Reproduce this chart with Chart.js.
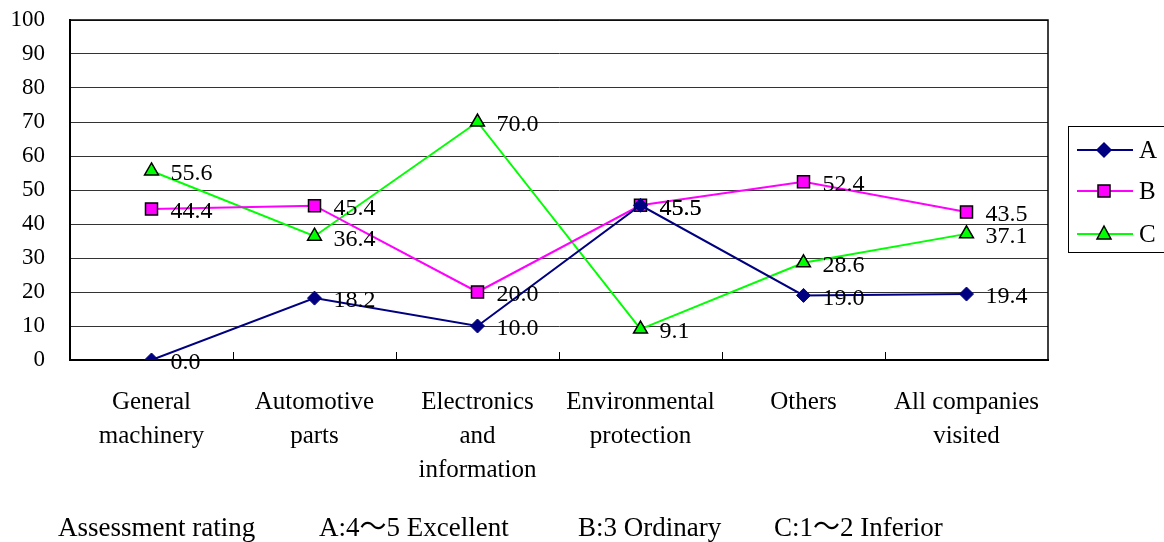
<!DOCTYPE html>
<html>
<head>
  <title>Assessment rating by industry</title>
  <script src="https://cdn.jsdelivr.net/npm/chart.js"></script>
  <style>
    body {
      margin: 0;
      background-color: #FFFFFF;
    }

    .chart-container {
      position: relative;
      width: 1164px;
      height: 542px;
    }

    .caption {
      position: absolute;
      display: block;
      top: 512px;
      height: 30px;
      line-height: 30px;
      font-family: "Liberation Serif", "Noto Sans CJK JP", serif;
      font-size: 27px;
      color: #000000;
      white-space: nowrap;
    }
  </style>
</head>
<body>
  <div class="chart-container">
    <canvas id="ratingChart" width="1164" height="542"></canvas>
    <div class="caption" style="left: 58px;">Assessment rating</div>
    <div class="caption" style="left: 319px;">A:4～5 Excellent</div>
    <div class="caption" style="left: 578px;">B:3 Ordinary</div>
    <div class="caption" style="left: 774px;">C:1～2 Inferior</div>
  </div>

  <script>
    const categories = [
      ['General', 'machinery'],
      ['Automotive', 'parts'],
      ['Electronics', 'and', 'information'],
      ['Environmental', 'protection'],
      ['Others'],
      ['All companies', 'visited'],
    ];
    const seriesA = [0.0, 18.2, 10.0, 45.5, 19.0, 19.4];
    const seriesB = [44.4, 45.4, 20.0, 45.5, 52.4, 43.5];
    const seriesC = [55.6, 36.4, 70.0, 9.1, 28.6, 37.1];
    const yTicks = [0, 10, 20, 30, 40, 50, 60, 70, 80, 90, 100];

    const serif = '"Liberation Serif", "Times New Roman", serif';

    // draws a marker shape (used for the legend)
    const drawMarker = (ctx, style, x, y, fill, stroke) => {
      ctx.save();
      ctx.fillStyle = fill;
      ctx.strokeStyle = stroke;
      ctx.lineWidth = 1.5;
      ctx.beginPath();
      if (style === 'rectRot') {
        ctx.moveTo(x, y - 7);
        ctx.lineTo(x + 7, y);
        ctx.lineTo(x, y + 7);
        ctx.lineTo(x - 7, y);
      } else if (style === 'rect') {
        ctx.rect(x - 6, y - 6, 12, 12);
      } else {
        ctx.moveTo(x, y - 8);
        ctx.lineTo(x + 7, y + 5);
        ctx.lineTo(x - 7, y + 5);
      }
      ctx.closePath();
      ctx.fill();
      ctx.stroke();
      ctx.restore();
    };

    const framePlugin = {
      id: 'frame',
      beforeDatasetsDraw: (chart) => {
        const { ctx, chartArea } = chart;
        ctx.save();
        ctx.strokeStyle = '#000000';
        ctx.lineWidth = 1.5;
        ctx.beginPath();
        ctx.moveTo(chartArea.left, chartArea.top);
        ctx.lineTo(chartArea.right, chartArea.top);
        ctx.lineTo(chartArea.right, chartArea.bottom);
        ctx.stroke();
        // short ticks between categories, drawn inward
        const xScale = chart.scales.x;
        ctx.lineWidth = 1;
        for (let i = 1; i < categories.length; i++) {
          const px = Math.round((xScale.getPixelForTick(i - 1) + xScale.getPixelForTick(i)) / 2) + 0.5;
          ctx.beginPath();
          ctx.moveTo(px, chartArea.bottom - 8);
          ctx.lineTo(px, chartArea.bottom);
          ctx.stroke();
        }
        ctx.restore();
      },
    };

    const valueLabelPlugin = {
      id: 'valueLabels',
      afterDatasetsDraw: (chart) => {
        const ctx = chart.ctx;
        ctx.save();
        ctx.font = '24px ' + serif;
        ctx.fillStyle = '#000000';
        ctx.textAlign = 'left';
        ctx.textBaseline = 'middle';
        chart.data.datasets.forEach((ds, i) => {
          chart.getDatasetMeta(i).data.forEach((pt, j) => {
            ctx.fillText(ds.data[j].toFixed(1), pt.x + 19, pt.y + 3);
          });
        });
        ctx.restore();
      },
    };

    const legendPlugin = {
      id: 'boxLegend',
      afterDraw: (chart) => {
        const ctx = chart.ctx;
        ctx.save();
        ctx.strokeStyle = '#000000';
        ctx.lineWidth = 1;
        ctx.strokeRect(1068.5, 126.5, 110, 126);
        const rows = [150, 191, 234];
        chart.data.datasets.forEach((ds, i) => {
          const y = rows[i];
          ctx.strokeStyle = ds.borderColor;
          ctx.lineWidth = 2;
          ctx.beginPath();
          ctx.moveTo(1077, y);
          ctx.lineTo(1133, y);
          ctx.stroke();
          drawMarker(ctx, ds.pointStyle, 1104, y, ds.pointBackgroundColor, ds.pointBorderColor);
          ctx.fillStyle = '#000000';
          ctx.font = '25px ' + serif;
          ctx.textAlign = 'left';
          ctx.textBaseline = 'middle';
          ctx.fillText(ds.label, 1139, y + 1);
        });
        ctx.restore();
      },
    };

    const ctx = document.getElementById('ratingChart').getContext('2d');
    const chart = new Chart(ctx, {
      type: 'line',
      data: {
        labels: categories,
        datasets: [
          {
            label: 'A',
            data: seriesA,
            borderColor: '#000080',
            borderWidth: 2,
            pointStyle: 'rectRot',
            pointRadius: 7,
            pointBackgroundColor: '#000080',
            pointBorderColor: '#000080',
            pointBorderWidth: 1,
            fill: false,
          },
          {
            label: 'B',
            data: seriesB,
            borderColor: '#FF00FF',
            borderWidth: 2,
            pointStyle: 'rect',
            pointRadius: 8.5,
            pointBackgroundColor: '#FF00FF',
            pointBorderColor: '#000000',
            pointBorderWidth: 1.5,
            fill: false,
          },
          {
            label: 'C',
            data: seriesC,
            borderColor: '#00FF00',
            borderWidth: 2,
            pointStyle: 'triangle',
            pointRadius: 8,
            pointBackgroundColor: '#00FF00',
            pointBorderColor: '#000000',
            pointBorderWidth: 1.5,
            fill: false,
          },
        ],
      },
      options: {
        responsive: false,
        animation: false,
        layout: {
          padding: { left: 0, right: 116, top: 20, bottom: 0 },
        },
        scales: {
          x: {
            offset: true,
            grid: { display: true, drawOnChartArea: false, drawTicks: false },
            border: { color: '#000000', width: 2 },
            ticks: {
              color: '#000000',
              padding: 25,
              maxRotation: 0,
              autoSkip: false,
              font: { family: serif, size: 25, lineHeight: 1.36 },
            },
            afterFit: (scale) => { scale.height = 182; },
          },
          y: {
            min: 0,
            max: 100,
            afterBuildTicks: (scale) => { scale.ticks = yTicks.map((v) => ({ value: v })); },
            grid: { color: '#333333', lineWidth: 1, drawTicks: false },
            border: { color: '#000000', width: 2 },
            ticks: {
              color: '#000000',
              padding: 25,
              font: { family: serif, size: 23 },
            },
            afterFit: (scale) => {
              scale.width = 70;
              // keep the plot top at the layout padding
              scale.paddingTop = 0;
              scale.paddingBottom = 0;
            },
          },
        },
        plugins: {
          legend: { display: false },
          tooltip: { enabled: false },
        },
      },
      plugins: [framePlugin, valueLabelPlugin, legendPlugin],
    });
  </script>
</body>
</html>
